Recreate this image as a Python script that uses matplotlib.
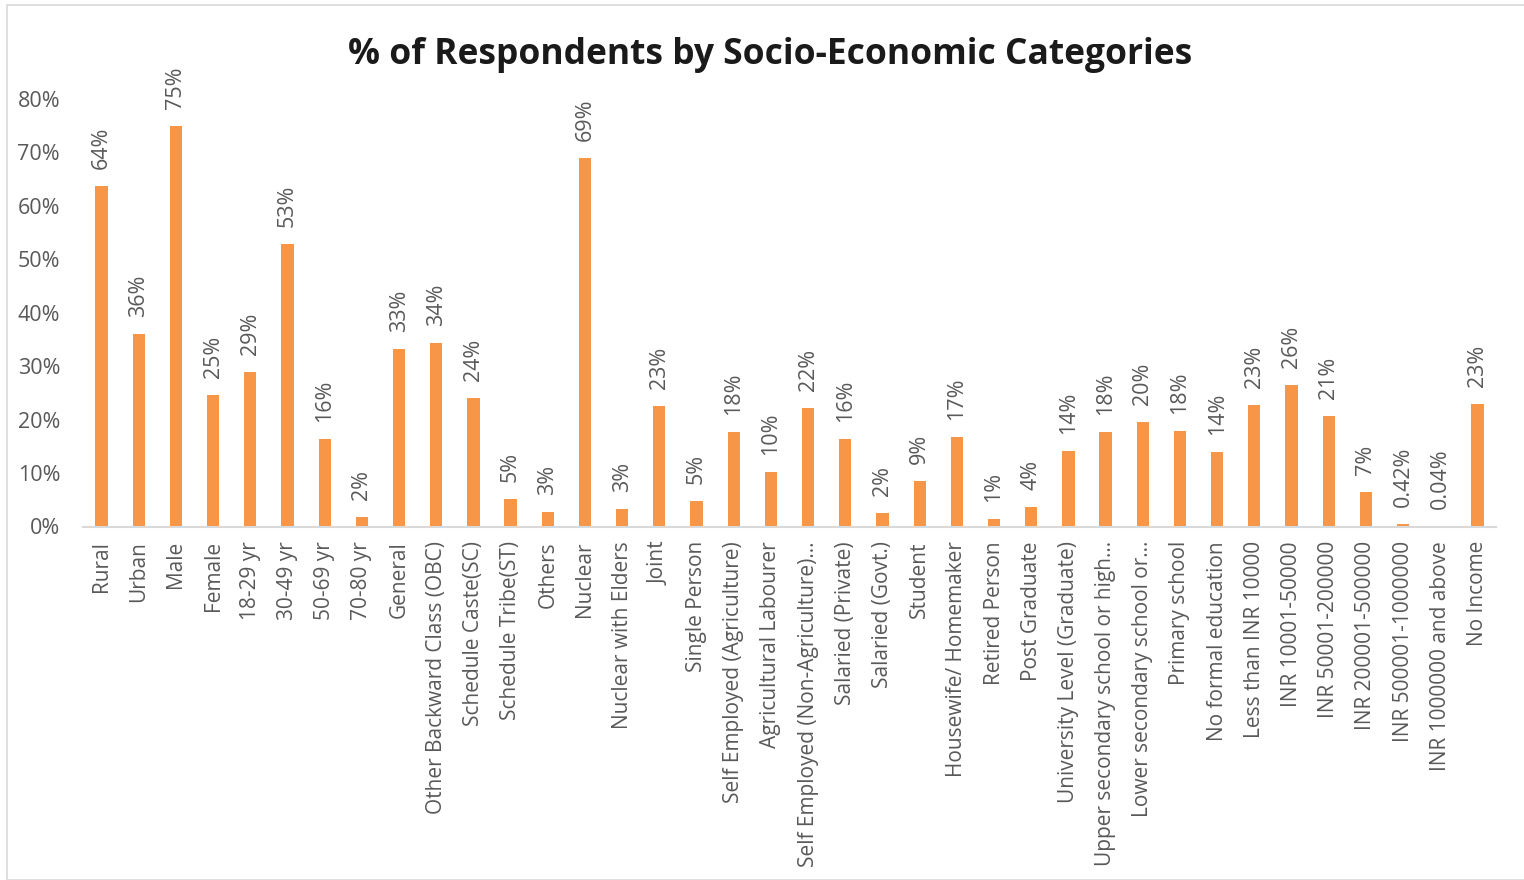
import matplotlib

matplotlib.use("Agg")
import matplotlib.pyplot as plt  # noqa: E402
import numpy as np  # noqa: E402
from matplotlib.patches import Rectangle  # noqa: E402

ORANGE = "#F79646"
TEXT = "#595959"
AXIS = "#D9D9D9"

categories = [
    "Rural", "Urban", "Male", "Female", "18-29 yr", "30-49 yr", "50-69 yr",
    "70-80 yr", "General", "Other Backward Class (OBC)", "Schedule Caste(SC)",
    "Schedule Tribe(ST)", "Others", "Nuclear", "Nuclear with Elders", "Joint",
    "Single Person", "Self Employed (Agriculture)", "Agricultural Labourer",
    "Self Employed (Non-Agriculture)...", "Salaried (Private)", "Salaried (Govt.)",
    "Student", "Housewife/ Homemaker", "Retired Person", "Post Graduate",
    "University Level (Graduate)", "Upper secondary school or high...",
    "Lower secondary school or...", "Primary school", "No formal education",
    "Less than INR 10000", "INR 10001-50000", "INR 50001-200000",
    "INR 200001-500000", "INR 500001-1000000", "INR 1000000 and above",
    "No Income",
]
share = [
    63.7, 36.1, 75.0, 24.7, 28.9, 52.8, 16.3, 1.8, 33.3, 34.3, 24.1, 5.2, 2.7,
    68.9, 3.3, 22.5, 4.8, 17.6, 10.2, 22.1, 16.4, 2.5, 8.6, 16.7, 1.4, 3.7,
    14.1, 17.6, 19.6, 17.8, 13.9, 22.7, 26.5, 20.6, 6.4, 0.42, 0.04, 23.0,
]
value_labels = [
    "64%", "36%", "75%", "25%", "29%", "53%", "16%", "2%", "33%", "34%", "24%",
    "5%", "3%", "69%", "3%", "23%", "5%", "18%", "10%", "22%", "16%", "2%",
    "9%", "17%", "1%", "4%", "14%", "18%", "20%", "18%", "14%", "23%", "26%",
    "21%", "7%", "0.42%", "0.04%", "23%",
]
y_ticks = [0, 10, 20, 30, 40, 50, 60, 70, 80]

plt.rcParams.update({"font.family": ["Open Sans", "DejaVu Sans"]})

W, H = 1524, 880
fig = plt.figure(figsize=(W / 100, H / 100), dpi=100)
fig.patches.append(
    Rectangle((7 / W, 0), 1.0, 1 - 5 / H, transform=fig.transFigure,
              fill=False, edgecolor=AXIS, linewidth=1.2)
)
ax = fig.add_axes([83 / W, 1 - 526.5 / H, (1496 - 83) / W, (526.5 - 99) / H])

x = np.arange(len(categories))
ax.bar(x, share, width=0.33, color=ORANGE)
for xi, v, lab in zip(x, share, value_labels):
    ax.annotate(lab, (xi, v), xytext=(0, 17), textcoords="offset pixels",
                rotation=90, ha="center", va="bottom", fontsize=15.5,
                color=TEXT, clip_on=False)

ax.set_xlim(-0.5, len(categories) - 0.5)
ax.set_ylim(0, 80)
ax.set_yticks(y_ticks, [f"{t}%" for t in y_ticks])
ax.set_xticks(x, categories, rotation=90)
ax.tick_params(axis="y", length=0, pad=16.5, labelsize=15.5, labelcolor=TEXT)
ax.tick_params(axis="x", length=0, pad=10.5, labelsize=15, labelcolor=TEXT)
for side in ("top", "right", "left"):
    ax.spines[side].set_visible(False)
ax.spines["bottom"].set_color(AXIS)
ax.spines["bottom"].set_linewidth(1.5)

fig.text(770 / W, 1 - 55 / H, "% of Respondents by Socio-Economic Categories",
         ha="center", va="center", fontsize=25.5, fontweight="bold",
         color="#1A1A1A")

fig.savefig("out.png", dpi=100)
